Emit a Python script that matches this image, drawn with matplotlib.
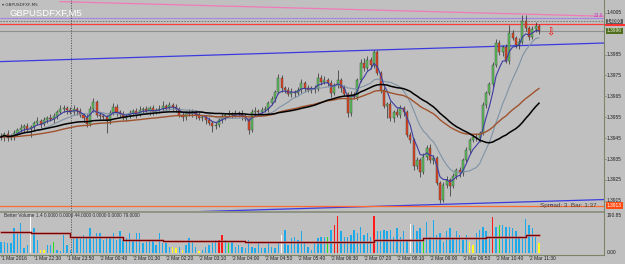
import matplotlib
matplotlib.use('Agg')
import matplotlib.pyplot as plt
import matplotlib.transforms as mtransforms
from matplotlib.lines import Line2D
from matplotlib.patches import Rectangle
import numpy as np
import pandas as pd

# ---- price data (M5 bars) ----
first_open = 1.39460
close = [
    1.39455, 1.39470, 1.39450, 1.39460, 1.39474, 1.39489, 1.39498, 1.39508, 1.39494, 1.39503,
    1.39522, 1.39532, 1.39517, 1.39537, 1.39546, 1.39541, 1.39556, 1.39575, 1.39589, 1.39594,
    1.39584, 1.39575, 1.39589, 1.39580, 1.39560, 1.39546, 1.39517, 1.39589, 1.39623, 1.39560,
    1.39556, 1.39551, 1.39532, 1.39570, 1.39599, 1.39575, 1.39565, 1.39546, 1.39556, 1.39570,
    1.39580, 1.39565, 1.39584, 1.39589, 1.39580, 1.39594, 1.39575, 1.39584, 1.39589, 1.39604,
    1.39594, 1.39608, 1.39599, 1.39589, 1.39560, 1.39551, 1.39570, 1.39565, 1.39575, 1.39560,
    1.39546, 1.39551, 1.39537, 1.39522, 1.39508, 1.39513, 1.39537, 1.39556, 1.39560, 1.39565,
    1.39560, 1.39570, 1.39565, 1.39556, 1.39541, 1.39489, 1.39575, 1.39580, 1.39575, 1.39584,
    1.39589, 1.39618, 1.39637, 1.39671, 1.39738, 1.39690, 1.39680, 1.39661, 1.39671, 1.39666,
    1.39680, 1.39714, 1.39690, 1.39680, 1.39690, 1.39685, 1.39738, 1.39718, 1.39728, 1.39714,
    1.39666, 1.39704, 1.39728, 1.39690, 1.39661, 1.39570, 1.39656, 1.39647, 1.39728, 1.39809,
    1.39785, 1.39824, 1.39800, 1.39862, 1.39761, 1.39680, 1.39604, 1.39613, 1.39546, 1.39575,
    1.39560, 1.39594, 1.39575, 1.39465, 1.39441, 1.39317, 1.39345, 1.39288, 1.39360, 1.39403,
    1.39345, 1.39355, 1.39235, 1.39154, 1.39226, 1.39250, 1.39221, 1.39269, 1.39297, 1.39283,
    1.39345, 1.39393, 1.39441, 1.39455, 1.39450, 1.39474, 1.39608, 1.39666, 1.39709, 1.39800,
    1.39905, 1.39862, 1.39886, 1.39819, 1.39953, 1.39929, 1.39896, 1.39910, 1.40010, 1.39977,
    1.39934, 1.39972, 1.39986, 1.39963,
]
# wick lengths in points (0.00001)
up_wick = [
    15, 10, 20, 10, 15, 10, 20, 10, 15, 10, 10, 20, 10, 15, 10, 20, 15, 10, 20, 15,
    10, 15, 20, 10, 15, 10, 20, 15, 20, 10, 15, 10, 10, 15, 20, 15, 10, 15, 10, 15,
    10, 15, 20, 10, 15, 10, 15, 10, 20, 25, 10, 15, 10, 15, 10, 15, 10, 20, 15, 10,
    15, 10, 10, 15, 10, 15, 10, 15, 10, 20, 10, 15, 10, 20, 10, 10, 15, 20, 10, 15,
    15, 10, 15, 10, 20, 15, 10, 15, 20, 10, 15, 20, 10, 15, 10, 15, 25, 15, 20, 10,
    15, 10, 48, 10, 15, 10, 20, 15, 10, 20, 25, 20, 15, 10, 10, 10, 15, 10, 15, 10,
    20, 15, 10, 10, 15, 10, 15, 10, 20, 15, 20, 15, 10, 10, 15, 20, 10, 15, 10, 15,
    10, 15, 10, 15, 20, 10, 15, 10, 10, 15, 20, 15, 10, 15, 38, 15, 10, 20, 29, 29,
    10, 15, 20, 10,
]
dn_wick = [
    15, 20, 15, 10, 20, 15, 10, 20, 15, 38, 15, 10, 20, 10, 15, 10, 20, 15, 10, 15,
    20, 10, 15, 20, 10, 20, 15, 10, 15, 10, 15, 10, 57, 15, 10, 20, 15, 10, 15, 10,
    15, 20, 10, 15, 10, 20, 15, 10, 15, 10, 15, 10, 20, 15, 10, 20, 15, 10, 15, 20,
    10, 15, 20, 10, 29, 15, 10, 15, 20, 10, 15, 10, 15, 20, 10, 20, 10, 15, 20, 10,
    10, 15, 10, 15, 10, 20, 15, 10, 15, 20, 10, 15, 20, 10, 15, 20, 10, 15, 10, 15,
    20, 10, 15, 20, 10, 19, 15, 10, 15, 10, 15, 10, 20, 15, 10, 15, 10, 57, 15, 20,
    10, 15, 20, 10, 15, 19, 15, 24, 10, 15, 15, 20, 10, 14, 10, 15, 48, 10, 15, 20,
    15, 10, 15, 10, 15, 20, 10, 15, 10, 15, 10, 15, 20, 10, 15, 10, 15, 20, 10, 15,
    15, 10, 15, 15,
]
volume = [
    58, 58, 50, 50, 127, 103, 155, 26, 41, 187, 127, 67, 15, 15, 41, 41, 58, 15, 10, 93,
    41, 15, 84, 76, 76, 93, 84, 127, 84, 103, 103, 67, 76, 84, 103, 67, 111, 67, 76, 103,
    67, 103, 103, 50, 58, 67, 67, 41, 103, 50, 50, 33, 33, 26, 33, 15, 41, 76, 58, 33,
    10, 15, 33, 41, 50, 67, 67, 93, 67, 50, 58, 33, 41, 33, 26, 67, 33, 26, 50, 26,
    26, 50, 33, 26, 50, 93, 119, 41, 76, 84, 67, 111, 50, 33, 15, 50, 76, 84, 84, 84,
    119, 144, 190, 111, 84, 84, 93, 119, 103, 136, 93, 103, 84, 190, 111, 111, 119, 111, 119, 84,
    127, 84, 111, 67, 148, 144, 111, 127, 76, 161, 84, 170, 93, 103, 58, 111, 127, 76, 111, 93,
    67, 93, 58, 41, 103, 119, 136, 111, 84, 186, 136, 144, 144, 136, 136, 127, 111, 84, 84, 175,
    144, 127, 84, 50,
]
white_bars = [9, 85, 124]
red_bars = [66, 67, 101, 102, 113, 149]
green_bars = [16, 69, 99, 128, 151]
yellow_bars = [12, 13, 52, 53, 55, 60, 142, 143, 163]
vol_avg_start = [0, 9, 21, 37, 49, 74, 97, 113, 128, 147, 159, 163]
vol_avg = [110, 102, 81, 67, 62, 55, 58, 67, 76, 81, 93, 93]

time_labels = ['1 Mar 2016', '1 Mar 22:30', '1 Mar 23:50', '2 Mar 00:40', '2 Mar 01:30',
               '2 Mar 02:20', '2 Mar 03:10', '2 Mar 04:00', '2 Mar 04:50', '2 Mar 05:40',
               '2 Mar 06:30', '2 Mar 07:20', '2 Mar 08:10', '2 Mar 09:00', '2 Mar 09:50',
               '2 Mar 10:40', '2 Mar 11:30']
time_label_bars = list(range(0, 170, 10))
price_ticks = [1.4005, 1.3985, 1.3975, 1.3965, 1.3955, 1.3945, 1.3935, 1.3925, 1.3915]

# objects drawn on the chart
blue_trend1 = ([-0.3, 182.7], [1.39816, 1.39905])
blue_trend2 = ([55, 182.7], [1.39096, 1.39156])
pink_trend = ([17.9, 182.7], [1.40103, 1.40033])
fibo_level = 1.40027
round_level = 1.40008
red_level = 1.39996
orange_level = 1.39127

BG = '#c0c0c0'
FRAME = '#7d8567'
W, H = 625, 264

fig = plt.figure(figsize=(6.25, 2.64), dpi=100, facecolor=BG)
plt.rcParams['font.family'] = ['Liberation Sans', 'DejaVu Sans']

ax = fig.add_axes([0, (H - 211) / H, 604 / W, 211 / H], facecolor=BG)
axv = fig.add_axes([0, (H - 254.5) / H, 604 / W, 41.5 / H], facecolor=BG)
for a in (ax, axv):
    for s in a.spines.values():
        s.set_visible(False)
    a.set_xticks([])
    a.set_yticks([])
    a.set_xlim(-0.3, 182.7)
ax.set_ylim(1.391012, 1.401108)
axv.set_ylim(-7.7, 206.3)

n = len(close)
x = np.arange(n)
c = np.array(close)
o = np.array([first_open] + close[:-1])
hi = np.maximum(o, c) + np.array(up_wick) * 1e-5
lo = np.minimum(o, c) - np.array(dn_wick) * 1e-5
bull = c >= o

# lines / objects
ax.plot(*blue_trend1, color='#3a3ae0', lw=0.9)
ax.plot(*blue_trend2, color='#3a3ae0', lw=0.9)
ax.plot(166.5, 1.39131, marker='s', ms=2, mfc='white', mec='#3a3ae0', mew=0.5)
ax.plot(*pink_trend, color='#f07ab8', lw=0.9)
ax.axhline(fibo_level, color='#a58ae0', lw=0.9)
ax.axhline(round_level, color='#707070', lw=0.6, ls=(0, (2, 1.5)))
ax.axhline(red_level, color='#ff3a3a', lw=0.9)
ax.axhline(c[-1], color='#909090', lw=0.8)
ax.axhline(orange_level, color='#ff6a30', lw=0.9)
ax.text(182.4, 1.40039, '23.6', ha='right', va='center', fontsize=3.5, color='#c040c0')

# moving averages
s = pd.Series(c)
ema_fast = s.ewm(span=5, adjust=False).mean()
sma_mid = s.rolling(13, min_periods=1).mean()
sma_slow = s.rolling(34, min_periods=1).mean()
ema_slow = s.ewm(span=50, adjust=False).mean()

# candles
ax.vlines(x, lo, hi, color='#2a2a2a', lw=0.5, zorder=3)
body_bot = np.minimum(o, c)
body_h = np.maximum(np.abs(c - o), 0.00002)
ax.bar(x, body_h, bottom=body_bot, width=0.62,
       color=np.where(bull, '#5cc65c', '#e8441e'), edgecolor='#3a3a3a', linewidth=0.3, zorder=4)

ax.plot(x, sma_mid, color='#7f93a6', lw=0.8, zorder=5)
ax.plot(x, ema_fast, color='#3c3ca0', lw=0.8, zorder=5)
ax.plot(x, ema_slow, color='#a0522d', lw=1.0, zorder=5)
ax.plot(x, sma_slow, color='black', lw=1.1, zorder=5)

ax.text(166.4, 1.39958, '\u21e9', color='red', fontsize=7, ha='center', va='center',
        family='DejaVu Sans')
ax.text(540 / 604, (211 - 206) / 211, 'Spread: 3  Bar: 1:37', transform=ax.transAxes,
        fontsize=4.6, color='#404040', va='center', ha='left')

# day separator
for a in (ax, axv):
    a.axvline(21.2, color='#505050', lw=0.6, ls=(0, (1.5, 1.5)))

# volume panel
vcol = ['#1ea9ea'] * n
for i in white_bars:
    vcol[i] = 'white'
for i in red_bars:
    vcol[i] = '#ff1a1a'
for i in green_bars:
    vcol[i] = '#22e022'
for i in yellow_bars:
    vcol[i] = '#ffff20'
axv.bar(x, volume, width=0.42, color=vcol, zorder=3)
axv.plot(vol_avg_start, vol_avg, drawstyle='steps-post', color='#d08080', lw=2.0, alpha=0.6, zorder=4)
axv.plot(vol_avg_start, vol_avg, drawstyle='steps-post', color='#7a0000', lw=0.9, zorder=5)
axv.text(4 / 604, 0.928, 'Better Volume 1.4 0.0000 0.0000 44.0000 0.0000 0.0000 79.0000',
         transform=axv.transAxes, fontsize=3.4, color='#303030', va='center', ha='left')

# separators and frame
fig.patches.append(Rectangle((0, (H - 213) / H), 604 / W, 2 / H, transform=fig.transFigure,
                             facecolor='#8f9484', edgecolor='none'))
fig.lines.append(Line2D([604 / W, 604 / W], [(H - 254.5) / H, 1], transform=fig.transFigure,
                        color=FRAME, lw=0.8))
fig.lines.append(Line2D([0, 604 / W], [(H - 254.5) / H] * 2, transform=fig.transFigure,
                        color=FRAME, lw=0.8))

# right price axis
tr = mtransforms.blended_transform_factory(ax.transAxes, ax.transData)
for p in price_ticks:
    ax.text(1.0 + 3 / 604, p, f'{p:.4f}', transform=tr, fontsize=3.5, color='#202020',
            va='center', ha='left', clip_on=False)
    ax.plot([1.0, 1.0 + 2 / 604], [p, p], transform=tr, color=FRAME, lw=0.5, clip_on=False)
ax.text(1.0 + 3 / 604, 1.40006, '1.4000', transform=tr, fontsize=3.5, color='white',
        va='center', ha='left', clip_on=False,
        bbox=dict(facecolor='#5e5e5e', edgecolor='none', pad=0.5))
fig.patches.append(Rectangle((605 / W, (H - 25.5) / H), 20 / W, 1.5 / H, transform=fig.transFigure,
                             facecolor='#ff3030', edgecolor='none'))
ax.text(1.0 + 3 / 604, c[-1], f'{c[-1]:.4f}', transform=tr, fontsize=3.5, color='#e8f0d8',
        va='center', ha='left', clip_on=False,
        bbox=dict(facecolor='#4f6e1e', edgecolor='none', pad=0.6))
ax.text(1.0 + 3 / 604, orange_level, f'{orange_level:.4f}', transform=tr, fontsize=3.5,
        color='white', va='center', ha='left', clip_on=False,
        bbox=dict(facecolor='#ff4a10', edgecolor='none', pad=0.6))

trv = mtransforms.blended_transform_factory(axv.transAxes, axv.transData)
axv.text(1.0 + 3 / 604, 190.85, '190.85', transform=trv, fontsize=3.5, color='#202020',
         va='center', ha='left', clip_on=False)
axv.text(1.0 + 3 / 604, 3, '0.00', transform=trv, fontsize=3.5, color='#202020',
         va='center', ha='left', clip_on=False)

# time axis
trt = mtransforms.blended_transform_factory(axv.transData, fig.transFigure)
for b, lab in zip(time_label_bars, time_labels):
    axv.text(b + 0.4, (H - 258.5) / H, lab, transform=trt, fontsize=3.5, color='#202020',
             va='center', ha='left', clip_on=False)
    axv.plot([b, b], [(H - 254.5) / H, (H - 257) / H], transform=trt, color=FRAME, lw=0.5,
             clip_on=False)

# titles
fig.text(2 / W, 1 - 5 / H, '\u25be GBPUSDFXF,M5', fontsize=3, color='#303030', va='center',
         family='DejaVu Sans')
fig.text(9 / W, 1 - 13.5 / H, 'GBPUSDFXF,M5', fontsize=6.8, color='white', va='center')

fig.savefig('out.png', dpi=100, facecolor=BG)
